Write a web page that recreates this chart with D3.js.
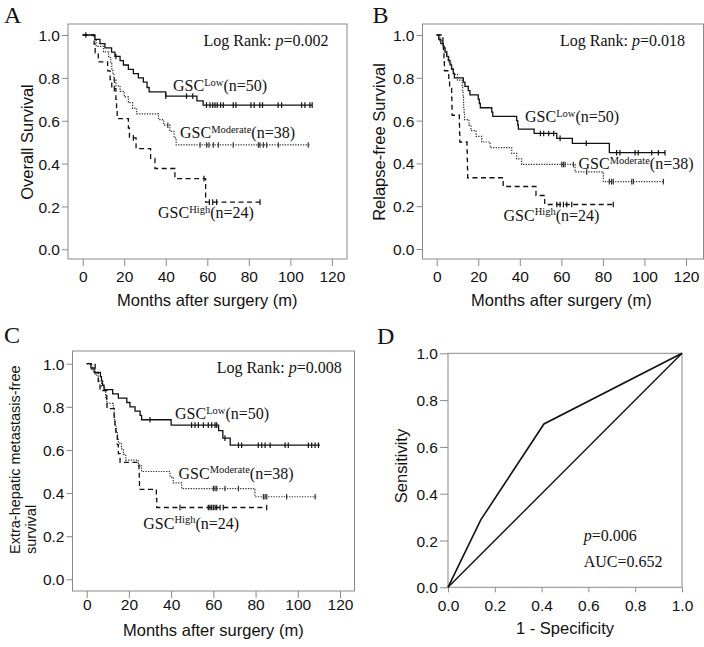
<!DOCTYPE html>
<html><head><meta charset="utf-8">
<script src="https://cdn.jsdelivr.net/npm/d3@7"></script>
<style>
body{margin:0;background:#fff;}
svg{display:block;}
</style></head><body>
<svg id="chart" width="704" height="647"></svg>
<script>
// ---------------- DATA ----------------
const monthTicks = [0, 20, 40, 60, 80, 100, 120];
const survTicks = [0, 0.2, 0.4, 0.6, 0.8, 1.0];
const rocTicks = [0, 0.2, 0.4, 0.6, 0.8, 1.0];
const groupNames = ["Low", "Moderate", "High"];
const groupN = [50, 38, 24];
const pValues = ["0.002", "0.018", "0.008"];
const yTitles = ["Overall Survival", "Relapse-free Survival", "Extra-hepatic metastasis-free survival"];
const xTitle = "Months after surgery (m)";

// Panel A: Overall survival. steps = [month, survival after event]
const aLowSteps = [[5.9,0.98],[8.3,0.96],[10.7,0.94],[13.9,0.92],[15.5,0.90],[18,0.88],[19.6,0.86],[22,0.84],[24.4,0.82],[26.8,0.80],[29.2,0.78],[31,0.755],[32,0.735],[40,0.715],[55,0.693],[58,0.673]];
const aLowCensor = [1.5,16,40,50,53,59.6,61.3,62.6,63.7,64.8,66.4,67.7,72.5,73.8,81,82.6,85.3,86.6,94.1,95.8,105.4,107,109.4,110.5];
const aLowEnd = 110.5;
const aModSteps = [[5.7,0.974],[6.5,0.947],[10,0.921],[12.5,0.895],[13.5,0.868],[14,0.842],[14.5,0.816],[15,0.789],[16,0.763],[18,0.737],[20,0.711],[22,0.684],[24,0.658],[26,0.632],[36.5,0.605],[39,0.579],[42,0.55],[44,0.52],[45,0.487]];
const aModCensor = [15.3,41,56.5,59.7,60.8,62.9,65.3,72.5,84.6,85.4,87,88.6,94.2,108.6];
const aModEnd = 109.4;
const aHighSteps = [[5.5,0.958],[6,0.917],[7.5,0.875],[12,0.833],[13.2,0.792],[14,0.75],[16,0.70],[16.3,0.655],[16.6,0.61],[22,0.566],[22.5,0.52],[25.7,0.47],[32.7,0.424],[34.8,0.377],[44.4,0.33],[59.2,0.22]];
const aHighCensor = [15.2,24.4,58.4,61,62.6,64.5,85.4];
const aHighEnd = 85.4;

// Panel B: Relapse-free survival
const bLowSteps = [[1,0.98],[2,0.96],[3.2,0.94],[4,0.92],[4.8,0.90],[5.6,0.88],[6.4,0.86],[7.2,0.84],[8,0.82],[8.5,0.80],[12.8,0.78],[13.6,0.76],[15.2,0.74],[16,0.72],[20,0.70],[20.5,0.68],[21,0.66],[26.5,0.64],[27,0.62],[38.5,0.60],[39,0.58],[39.3,0.56],[46.9,0.54],[57.8,0.517],[65.3,0.494],[83.1,0.45]];
const bLowCensor = [49.9,51.5,53.9,56.3,59.4,72,86.6,88.2,95.5,97,103.5,106.7,109.9];
const bLowEnd = 110;
const bModSteps = [[1.5,0.974],[3,0.947],[4,0.921],[5,0.895],[6,0.868],[7,0.842],[8,0.816],[10,0.789],[12.3,0.763],[12.5,0.737],[12.7,0.711],[12.9,0.684],[13,0.658],[13.2,0.632],[13.4,0.605],[15.5,0.579],[16.5,0.553],[19,0.526],[21.7,0.5],[25.7,0.474],[36.1,0.447],[38.5,0.421],[40.9,0.395],[66.6,0.36],[80.2,0.315]];
const bModCensor = [60.2,61,61.8,65.8,72.2,83.1,84.2,85,93.9,94.7,109.1];
const bModEnd = 109.1;
const bHighSteps = [[3,0.958],[3.3,0.917],[3.5,0.875],[3.7,0.833],[5.8,0.792],[6.2,0.75],[7.2,0.708],[7.3,0.667],[7.4,0.625],[10.9,0.583],[11,0.542],[11.1,0.5],[14.6,0.458],[14.7,0.417],[14.8,0.375],[14.9,0.333],[32,0.292],[47.8,0.25],[52,0.208]];
const bHighCensor = [57.8,59.4,61,62.6,65,85];
const bHighEnd = 85;

// Panel C: Extra-hepatic metastasis-free survival
const cLowSteps = [[2,0.98],[3.5,0.96],[6.5,0.94],[7,0.92],[7.5,0.90],[8.2,0.88],[12.3,0.86],[15,0.84],[19,0.82],[20.5,0.80],[22.9,0.78],[25.3,0.76],[26,0.74],[40,0.715],[62.5,0.69],[64.5,0.655],[68,0.622]];
const cLowCensor = [30,49.7,51.3,52.9,55.3,57.6,59.2,60.8,61.6,65.5,71.9,73.4,81.3,82.9,84.5,86.9,94,95.5,105,106.6,108.2,109.8];
const cLowEnd = 110.5;
const cModSteps = [[2.4,0.974],[4,0.947],[5.5,0.921],[7,0.895],[8.5,0.868],[9,0.842],[9.5,0.816],[12.6,0.789],[13,0.763],[13.2,0.737],[13.4,0.711],[14,0.684],[14.5,0.658],[15,0.632],[16.5,0.605],[17.4,0.579],[18.5,0.553],[24.5,0.526],[26,0.5],[39.5,0.474],[41,0.447],[45,0.421],[79.7,0.383]];
const cModCensor = [60,60.8,61.6,65.5,71.9,83.7,84.5,85.3,94.7,108.2];
const cModEnd = 109;
const cHighSteps = [[4,0.958],[5.5,0.917],[6.3,0.875],[9.5,0.833],[9.6,0.792],[13,0.75],[13.4,0.708],[13.8,0.667],[14.5,0.625],[15,0.583],[15.8,0.542],[24.8,0.5],[24.9,0.458],[25,0.417],[33,0.375],[33.2,0.333]];
const cHighCensor = [44.2,57.6,58.4,59.2,60,60.8,61.6,63.2,64.7,85.3];
const cHighEnd = 85.3;

// Panel D: ROC
const rocFpr = [0, 0.14, 0.41, 1];
const rocTpr = [0, 0.288, 0.698, 1];
const refFpr = [0, 1];
const refTpr = [0, 1];
const rocP = "0.006";
const rocAUC = "0.652";

// ---------------- DRAWING ----------------
const svg = d3.select("#chart");
const SERIF = "'Liberation Serif','Times New Roman',serif";
const SANS = "'Liberation Sans',Arial,sans-serif";
const FRAME = "#8a8a8a";
const INK = "#111";

const styles = [
  {dash: null, color: "#111", width: 1.3},
  {dash: "1.3,1.3", color: "#333", width: 1.2},
  {dash: "5,3.5", color: "#111", width: 1.3}
];

const kmPanels = [
  {letter: "A", lx: 4, ly: 23, x0: 82.7, x1: 331.9, yTop: 35, yBot: 249.3, frame: [68, 24, 347, 259],
   curves: [[aLowSteps, aLowCensor, aLowEnd],[aModSteps, aModCensor, aModEnd],[aHighSteps, aHighCensor, aHighEnd]],
   logRank: [328.5, 46], legend: [[173, 91],[180, 138],[158, 218]], yTitle: [33, 142], xTitleY: 306, tickLabelY: 282},
  {letter: "B", lx: 372.5, ly: 23, x0: 436.7, x1: 686, yTop: 35, yBot: 249, frame: [422.5, 24, 703.5, 259],
   curves: [[bLowSteps, bLowCensor, bLowEnd],[bModSteps, bModCensor, bModEnd],[bHighSteps, bHighCensor, bHighEnd]],
   logRank: [685, 46], legend: [[525, 122],[578.5, 169],[503.5, 220.5]], yTitle: [385, 142], xTitleY: 306, tickLabelY: 282},
  {letter: "C", lx: 4, ly: 343, x0: 86.7, x1: 340, yTop: 363.7, yBot: 579.3, frame: [72.5, 351, 354.5, 591],
   curves: [[cLowSteps, cLowCensor, cLowEnd],[cModSteps, cModCensor, cModEnd],[cHighSteps, cHighCensor, cHighEnd]],
   logRank: [341.7, 373.3], legend: [[175, 419],[178.5, 478.5],[143.3, 528.5]], yTitle: null, xTitleY: 636, tickLabelY: 610}
];

function survAt(steps, t) {
  let s = 1;
  for (const [tt, ss] of steps) if (tt <= t) s = ss;
  return s;
}

kmPanels.forEach((p, pi) => {
  const g = svg.append("g");
  const x = d3.scaleLinear().domain([0, 120]).range([p.x0, p.x1]);
  const y = d3.scaleLinear().domain([0, 1]).range([p.yBot, p.yTop]);
  const [fl, ft, fr, fb] = p.frame;

  g.append("rect").attr("x", fl).attr("y", ft).attr("width", fr - fl).attr("height", fb - ft)
    .attr("fill", "none").attr("stroke", FRAME).attr("stroke-width", 1);

  const xa = g.append("g").attr("transform", `translate(0,${fb})`)
    .call(d3.axisBottom(x).tickValues(monthTicks).tickSize(7).tickSizeOuter(0).tickPadding(3));
  const ya = g.append("g").attr("transform", `translate(${fl},0)`)
    .call(d3.axisLeft(y).tickValues(survTicks).tickFormat(d3.format(".1f")).tickSize(6).tickSizeOuter(0).tickPadding(2));
  [xa, ya].forEach(a => {
    a.select(".domain").remove();
    a.selectAll(".tick line").attr("stroke", FRAME);
    a.selectAll(".tick text").attr("font-family", SANS).attr("font-size", 15.5).attr("fill", INK);
  });
  xa.selectAll(".tick text").attr("dy", null).attr("y", p.tickLabelY - fb);
  ya.selectAll(".tick text").attr("dy", "0.36em");

  const line = d3.line().x(d => x(d[0])).y(d => y(d[1])).curve(d3.curveStepAfter);
  p.curves.forEach(([steps, censor, end], ci) => {
    const st = styles[ci];
    const pts = [[0, 1], ...steps, [end, steps[steps.length - 1][1]]];
    g.append("path").attr("d", line(pts)).attr("fill", "none")
      .attr("stroke", st.color).attr("stroke-width", st.width)
      .attr("stroke-dasharray", st.dash);
    g.selectAll(null).data(censor).join("line")
      .attr("x1", d => x(d)).attr("x2", d => x(d))
      .attr("y1", d => y(survAt(steps, d)) - 2.8).attr("y2", d => y(survAt(steps, d)) + 2.8)
      .attr("stroke", st.color).attr("stroke-width", 1.2);
  });

  const lr = g.append("text").attr("x", p.logRank[0]).attr("y", p.logRank[1])
    .attr("text-anchor", "end").attr("font-family", SERIF).attr("font-size", 16).attr("fill", INK);
  lr.append("tspan").text("Log Rank: ");
  lr.append("tspan").attr("font-style", "italic").text("p");
  lr.append("tspan").text("=" + pValues[pi]);

  p.legend.forEach(([lx, ly], li) => {
    const t = g.append("text").attr("x", lx).attr("y", ly)
      .attr("font-family", SERIF).attr("font-size", 16).attr("fill", INK);
    t.append("tspan").text("GSC");
    t.append("tspan").attr("font-size", 10.5).attr("dy", -5.5).text(groupNames[li]);
    t.append("tspan").attr("dy", 5.5).text(`(n=${groupN[li]})`);
  });

  svg.append("text").attr("x", p.lx).attr("y", p.ly).attr("font-family", SERIF)
    .attr("font-size", 24).attr("fill", INK).text(p.letter);

  g.append("text").attr("x", (p.x0 + p.x1) / 2).attr("y", p.xTitleY).attr("text-anchor", "middle")
    .attr("font-family", SANS).attr("font-size", 16.5).attr("fill", INK).text(xTitle);

  if (p.yTitle) {
    g.append("text").attr("transform", `translate(${p.yTitle[0]},${p.yTitle[1]}) rotate(-90)`)
      .attr("text-anchor", "middle").attr("font-family", SANS).attr("font-size", 16.5)
      .attr("fill", INK).text(yTitles[pi]);
  } else {
    const parts = ["Extra-hepatic metastasis-free", "survival"];
    const t = g.append("text").attr("transform", `translate(20,554) rotate(-90)`)
      .attr("font-family", SANS).attr("font-size", 14.5).attr("fill", INK);
    t.append("tspan").attr("x", 0).attr("y", 0).text(parts[0]);
    t.append("tspan").attr("x", 0).attr("y", 16).text(parts[1]);
  }
});

// ---------- Panel D: ROC ----------
(function () {
  const g = svg.append("g");
  const x = d3.scaleLinear().domain([0, 1]).range([448, 682]);
  const y = d3.scaleLinear().domain([0, 1]).range([587.3, 353.3]);
  g.append("rect").attr("x", x(0)).attr("y", y(1)).attr("width", x(1) - x(0)).attr("height", y(0) - y(1))
    .attr("fill", "none").attr("stroke", FRAME).attr("stroke-width", 1);
  const xa = g.append("g").attr("transform", `translate(0,${y(0)})`)
    .call(d3.axisBottom(x).tickValues(rocTicks).tickFormat(d3.format(".1f")).tickSize(5).tickSizeOuter(0).tickPadding(3));
  const ya = g.append("g").attr("transform", `translate(${x(0)},0)`)
    .call(d3.axisLeft(y).tickValues(rocTicks).tickFormat(d3.format(".1f")).tickSize(8).tickSizeOuter(0).tickPadding(2));
  [xa, ya].forEach(a => {
    a.select(".domain").remove();
    a.selectAll(".tick line").attr("stroke", FRAME);
    a.selectAll(".tick text").attr("font-family", SANS).attr("font-size", 15.5).attr("fill", INK);
  });
  xa.selectAll(".tick text").attr("dy", null).attr("y", 611 - 587.3);
  ya.selectAll(".tick text").attr("dy", "0.36em");

  const line = d3.line().x(d => x(d[0])).y(d => y(d[1]));
  g.append("path").attr("d", line(d3.zip(refFpr, refTpr))).attr("fill", "none")
    .attr("stroke", "#111").attr("stroke-width", 1.4);
  g.append("path").attr("d", line(d3.zip(rocFpr, rocTpr))).attr("fill", "none")
    .attr("stroke", "#111").attr("stroke-width", 1.6);

  const t1 = g.append("text").attr("x", 583.7).attr("y", 541).attr("font-family", SERIF)
    .attr("font-size", 16).attr("fill", INK);
  t1.append("tspan").attr("font-style", "italic").text("p");
  t1.append("tspan").text("=" + rocP);
  g.append("text").attr("x", 583.7).attr("y", 566.7).attr("font-family", SERIF)
    .attr("font-size", 16).attr("fill", INK).text("AUC=" + rocAUC);

  svg.append("text").attr("x", 377).attr("y", 344).attr("font-family", SERIF)
    .attr("font-size", 24).attr("fill", INK).text("D");
  g.append("text").attr("x", 565).attr("y", 634).attr("text-anchor", "middle")
    .attr("font-family", SANS).attr("font-size", 16.5).attr("fill", INK).text("1 - Specificity");
  g.append("text").attr("transform", `translate(407,466) rotate(-90)`).attr("text-anchor", "middle")
    .attr("font-family", SANS).attr("font-size", 16.5).attr("fill", INK).text("Sensitivity");
})();
</script>
</body></html>
